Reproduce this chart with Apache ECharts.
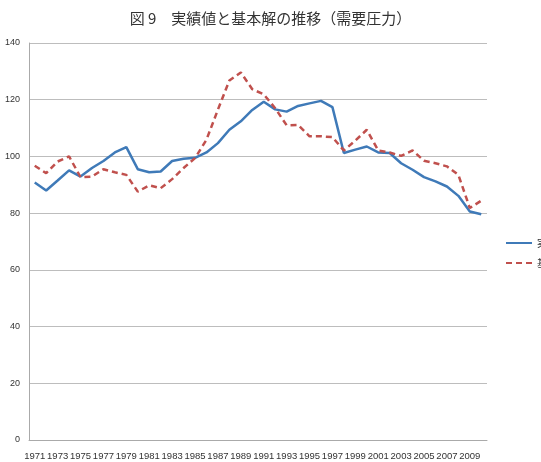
<!DOCTYPE html>
<html>
<head>
<meta charset="utf-8">
<script src="https://cdn.jsdelivr.net/npm/echarts@6/dist/echarts.min.js"></script>
<style>
  html, body { margin: 0; padding: 0; background: #fff; }
  #chart { width: 541px; height: 462px; }
</style>
</head>
<body>
<div id="chart"></div>
<script>
// years 1971 - 2010
var years = [];
for (var y = 1971; y <= 2010; y++) years.push(String(y));

var jisseki = [90.8, 88.0, 91.5, 95.1, 92.9, 95.9, 98.4, 101.4, 103.3, 95.5,
  94.4, 94.7, 98.4, 99.2, 99.5, 101.4, 104.7, 109.4, 112.4, 116.4,
  119.3, 116.6, 115.8, 117.8, 118.7, 119.6, 117.4, 101.2, 102.4, 103.5,
  101.4, 101.2, 97.6, 95.3, 92.7, 91.2, 89.4, 86.1, 80.6, 79.6];

var kihon = [96.7, 94.1, 98.2, 100.0, 92.7, 92.9, 95.5, 94.4, 93.5, 87.6,
  89.8, 88.8, 92.0, 95.9, 99.4, 105.9, 116.5, 126.8, 129.6, 123.7,
  121.9, 117.0, 111.0, 111.1, 107.1, 107.1, 106.8, 102.1, 105.6, 109.4,
  102.1, 101.4, 100.2, 102.1, 98.5, 97.6, 96.5, 93.5, 81.8, 84.4];

var myChart = echarts.init(document.getElementById("chart"));
var option = {
  animation: false,
  title: {
    text: "図 9　実績値と基本解の推移（需要圧力）",
    left: "center",
    top: 6,
    textStyle: {
      fontFamily: "Noto Sans CJK JP",
      fontSize: 15,
      fontWeight: "normal",
      color: "#333",
    },
  },
  grid: {
    left: 29,
    right: 54,
    top: 43,
    bottom: 22,
  },
  legend: {
    orient: "vertical",
    left: 500,
    top: 233,
    itemWidth: 26,
    itemHeight: 10,
    itemGap: 10,
    itemStyle: { opacity: 0 },
    textStyle: { fontSize: 10, color: "#333", fontFamily: "Noto Sans CJK JP" },
    data: ["実績値", "基本解"],
  },
  xAxis: {
    type: "category",
    data: years,
    boundaryGap: true,
    axisLine: { lineStyle: { color: "#aaa" } },
    axisTick: { interval: 0, length: 3, lineStyle: { color: "#aaa" } },
    axisLabel: {
      interval: 1,
      fontSize: 9.5,
      color: "#333",
      margin: 11,
      fontFamily: "Liberation Sans",
    },
  },
  yAxis: {
    type: "value",
    min: 0,
    max: 140,
    interval: 20,
    axisLine: { show: true, lineStyle: { color: "#aaa" } },
    axisTick: { show: false },
    axisLabel: { fontSize: 9, color: "#333", margin: 9, fontFamily: "Liberation Sans" },
    splitLine: { lineStyle: { color: "#bdbdbd", width: 1 } },
  },
  series: [
    {
      name: "実績値",
      type: "line",
      data: jisseki,
      symbol: "none",
      lineStyle: { color: "#3f7ab8", width: 2.5 },
      itemStyle: { color: "#3f7ab8" },
    },
    {
      name: "基本解",
      type: "line",
      data: kihon,
      symbol: "none",
      lineStyle: { color: "#c0504d", width: 2.5, type: [6, 4] },
      itemStyle: { color: "#c0504d" },
    },
  ],
};
myChart.setOption(option);
</script>
</body>
</html>
